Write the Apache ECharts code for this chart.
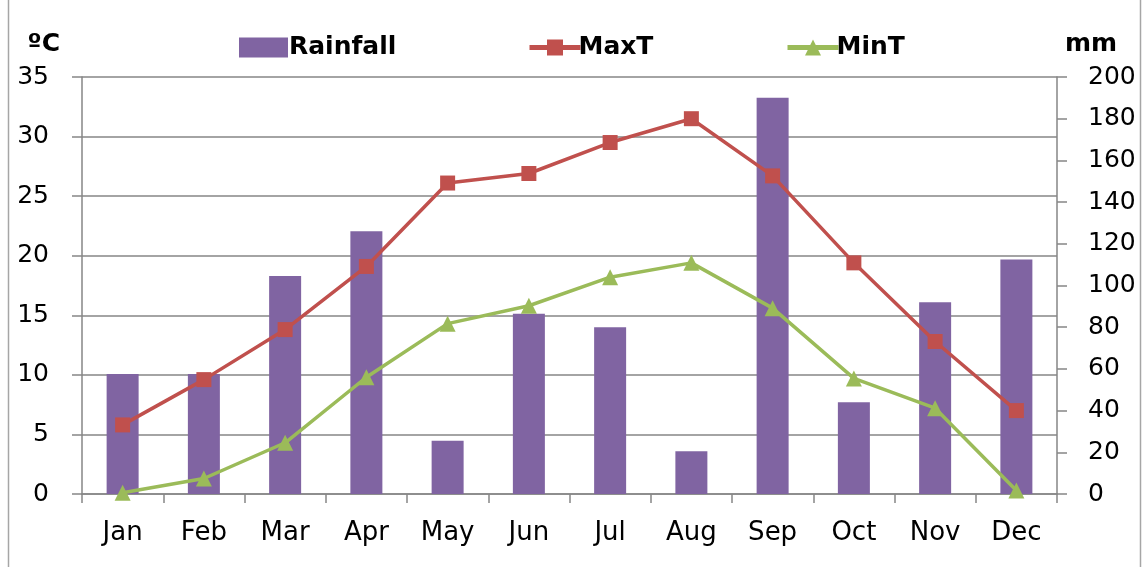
<!DOCTYPE html>
<html>
<head>
<meta charset="utf-8">
<script src="https://cdn.jsdelivr.net/npm/echarts@6/dist/echarts.min.js"></script>
<style>
  html, body { margin: 0; padding: 0; background: #fff; }
  #chart { width: 1143px; height: 567px; }
</style>
</head>
<body>
<div id="chart"></div>
<script>
// 月份
const months = ['Jan', 'Feb', 'Mar', 'Apr', 'May', 'Jun', 'Jul', 'Aug', 'Sep', 'Oct', 'Nov', 'Dec'];
// 降雨量 mm（右轴）
const rainfall = [57.5, 57.5, 104.5, 126, 25.5, 86.5, 80, 20.5, 190, 44, 92, 112.5];
// 最高气温 ºC（左轴）
const maxT = [5.8, 9.6, 13.8, 19.1, 26.1, 26.9, 29.5, 31.5, 26.7, 19.4, 12.8, 7.0];
// 最低气温 ºC（左轴）
const minT = [0.1, 1.3, 4.3, 9.8, 14.3, 15.8, 18.2, 19.4, 15.6, 9.7, 7.2, 0.3];

const font = 'DejaVu Sans';
const axisGray = '#868686';

const chart = echarts.init(document.getElementById('chart'));

const legendText = { fontFamily: font, fontWeight: 'bold', fontSize: 25, color: '#000', padding: [0, 0, 0, -4] };
const legendLineText = { fontFamily: font, fontWeight: 'bold', fontSize: 25, color: '#000', padding: [0, 0, 0, -7] };

const option = {
  animation: false,
  backgroundColor: '#fff',
  textStyle: { fontFamily: font, color: '#000' },
  grid: { left: 82, right: 86, top: 77, bottom: 73 },
  legend: [
    {
      data: [{ name: 'Rainfall', icon: 'rect' }], left: 234, top: 30,
      itemWidth: 49, itemHeight: 20,
      textStyle: legendText
    },
    {
      data: ['MaxT'], left: 522, top: 30,
      itemWidth: 51, itemHeight: 20,
      lineStyle: { width: 5 },
      textStyle: legendLineText
    },
    {
      data: ['MinT'], left: 780, top: 30,
      itemWidth: 51, itemHeight: 20,
      lineStyle: { width: 5 },
      textStyle: legendLineText
    }
  ],
  xAxis: {
    type: 'category',
    data: months,
    axisLine: { lineStyle: { color: axisGray, width: 1.5 } },
    axisTick: { show: true, length: 9, lineStyle: { color: axisGray, width: 1.5 } },
    axisLabel: { fontFamily: font, fontSize: 26, color: '#000', margin: 26 }
  },
  yAxis: [
    {
      type: 'value', min: 0, max: 35, interval: 5,
      name: 'ºC', nameLocation: 'end', nameGap: 20,
      nameTextStyle: { fontFamily: font, fontWeight: 'bold', fontSize: 25, color: '#000', align: 'right', padding: [0, 22, 0, 0] },
      axisLine: { show: true, lineStyle: { color: axisGray, width: 1.5 } },
      axisTick: { show: true, length: 10, lineStyle: { color: axisGray, width: 1.5 } },
      axisLabel: { fontFamily: font, fontSize: 25, color: '#000', margin: 33 },
      splitLine: { show: true, lineStyle: { color: axisGray, width: 1.5 } }
    },
    {
      type: 'value', min: 0, max: 200, interval: 20,
      name: 'mm', nameLocation: 'end', nameGap: 20,
      nameTextStyle: { fontFamily: font, fontWeight: 'bold', fontSize: 25, color: '#000', align: 'left', padding: [0, 0, 0, 8] },
      axisLine: { show: true, lineStyle: { color: axisGray, width: 1.5 } },
      axisTick: { show: true, length: 10, lineStyle: { color: axisGray, width: 1.5 } },
      axisLabel: { fontFamily: font, fontSize: 25, color: '#000', margin: 31 },
      splitLine: { show: false }
    }
  ],
  series: [
    {
      name: 'Rainfall', type: 'bar', yAxisIndex: 1,
      data: rainfall, barWidth: 32,
      itemStyle: { color: '#8064A2' },
      z: 1
    },
    {
      name: 'MaxT', type: 'line', yAxisIndex: 0,
      data: maxT,
      symbol: 'rect', symbolSize: 15,
      lineStyle: { color: '#C0504D', width: 3.5 },
      itemStyle: { color: '#C0504D' },
      z: 3
    },
    {
      name: 'MinT', type: 'line', yAxisIndex: 0,
      data: minT,
      symbol: 'triangle', symbolSize: 16,
      lineStyle: { color: '#9BBB59', width: 3.5 },
      itemStyle: { color: '#9BBB59' },
      z: 4
    }
  ],
  graphic: [
    { type: 'line', shape: { x1: 8.5, y1: 0, x2: 8.5, y2: 567 }, style: { stroke: '#a6a6a6', lineWidth: 1.5 } },
    { type: 'line', shape: { x1: 1140.5, y1: 0, x2: 1140.5, y2: 567 }, style: { stroke: '#a6a6a6', lineWidth: 1.5 } }
  ]
};

chart.setOption(option);
</script>
</body>
</html>
